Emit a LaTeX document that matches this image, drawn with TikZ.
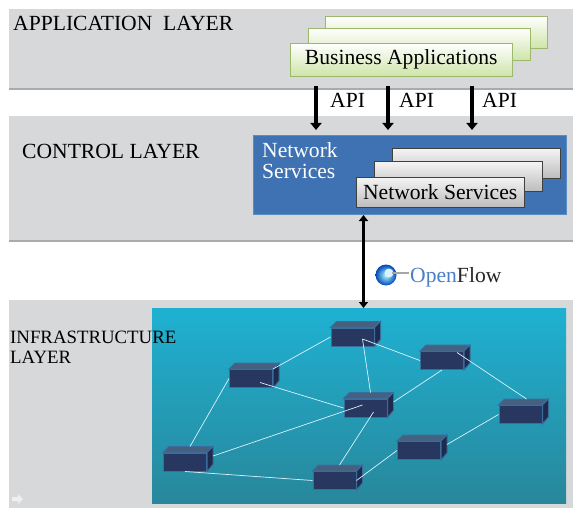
\documentclass[tikz,border=0pt]{standalone}
\usepackage{fontspec}
\setmainfont{Liberation Serif}
\usetikzlibrary{arrows.meta,positioning}

\definecolor{bandgrey}{HTML}{D7D8DA}
\definecolor{bandline}{HTML}{A9ABAD}
\definecolor{ctrlblue}{HTML}{3E72B3}
\definecolor{ctrledge}{HTML}{5C8CC6}
\definecolor{leafgreen}{HTML}{CFE4A8}
\definecolor{leafedge}{HTML}{9CB86C}
\definecolor{seatop}{HTML}{1FB1D2}
\definecolor{seabot}{HTML}{28879B}
\definecolor{boxnavy}{HTML}{27375F}
\definecolor{boxtop}{HTML}{46607F}
\definecolor{boxside}{HTML}{1F2B4C}
\definecolor{boxedge}{HTML}{3A6D9C}
\definecolor{ofblue}{HTML}{4A7FC8}

\tikzset{
  band/.style={fill=bandgrey, anchor=north west, inner sep=0pt, minimum width=564pt},
  layertext/.style={font=\fontsize{21.6}{21}\selectfont, anchor=base west, inner sep=0pt},
  appbox/.style={draw=leafedge, top color=white, bottom color=leafgreen, anchor=north west,
    minimum width=222pt, minimum height=32pt, inner sep=0pt, font=\fontsize{21.6}{21}\selectfont},
  svcbox/.style={draw=black!75, top color=black!4, bottom color=black!26, anchor=north west,
    minimum width=168pt, minimum height=30pt, inner sep=0pt, font=\fontsize{21.6}{21}\selectfont},
  api/.style={line width=4pt, -{Triangle[width=11pt,length=7pt]}},
  dbl/.style={line width=3pt, {Triangle[width=9pt,length=6pt]}-{Triangle[width=9pt,length=6pt]}},
  switch/.style={fill=boxnavy, draw=boxedge, line width=1pt, inner sep=0pt,
    minimum width=43pt, minimum height=18pt},
  link/.style={white!85!cyan, line width=0.7pt}
}

% a switch drawn as a small box seen from above right
\newcommand{\netswitch}[2]{%
  \node[switch] (#1) at (#2) {};
  \filldraw[fill=boxtop, draw=boxedge, line width=1pt] (#1.north west) -- ++(6,-6) -- ++(43,0) -- (#1.north east) -- cycle;
  \filldraw[fill=boxside, draw=boxedge, line width=1pt] (#1.north east) -- ++(6,-6) -- ++(0,18) -- (#1.south east) -- cycle;
}

\begin{document}
\begin{tikzpicture}[x=1pt, y=-1pt]
  \useasboundingbox (0,0) rectangle (573,508);

  % layer bands
  \node[band, minimum height=80pt] (appband) at (9,9) {};
  \node[band, minimum height=125pt] (ctrlband) at (9,116) {};
  \node[band, minimum height=208pt] (infraband) at (9,300) {};
  \draw[bandline, line width=2pt] (appband.south west) -- (appband.south east);
  \draw[bandline, line width=2pt] (ctrlband.south west) -- (ctrlband.south east);

  % application layer
  \node[layertext] (apptext) at (13,31) {APPLICATION\ \ LAYER};
  \node[appbox] (app3) at (325,16) {};
  \node[appbox] (app2) at (308,28) {};
  \node[appbox, minimum height=33pt] (app1) at (290,43) {Business Applications};

  % northbound interfaces
  \coordinate (a1) at (316,86);
  \coordinate (a2) at (388,86);
  \coordinate (a3) at (472,86);
  \node[layertext] (api1) at (330,108) {API};
  \node[layertext] (api2) at (399,108) {API};
  \node[layertext] (api3) at (482,108) {API};

  % control layer
  \node[layertext] (ctrltext) at (22,158) {CONTROL LAYER};
  \node[fill=ctrlblue, draw=ctrledge, line width=1pt, anchor=north west, inner sep=0pt,
    minimum width=313pt, minimum height=79pt] (ctrl) at (253,135) {};
  \node[anchor=north west, inner sep=0pt, align=left, text=white,
    font=\fontsize{21.6}{21}\selectfont] (ctrlname) at (262,142) {Network\\Services};
  \node[svcbox] (svc3) at (392,148) {};
  \node[svcbox] (svc2) at (374,161) {};
  \node[svcbox] (svc1) at (356,177) {Network Services};

  \draw[api, shorten >=5pt] (a1) -- (a1 |- ctrl.north);
  \draw[api, shorten >=5pt] (a2) -- (a2 |- ctrl.north);
  \draw[api, shorten >=5pt] (a3) -- (a3 |- ctrl.north);

  % southbound interface
  \node[anchor=base west, inner sep=0pt, font=\fontsize{21.6}{21}\selectfont] (of) at (410,282)
    {\textcolor{ofblue}{Open}\textcolor{black!85}{Flow}};
  \shade[inner color=white!70!cyan, outer color=blue!45!teal] (386,275) circle (10.5);
  \fill[white!85!cyan] (389,273) circle (4.5);
  \draw[black!35, line width=2pt] (392,273) -- (409,273);

  % infrastructure layer
  \node[anchor=north west, inner sep=0pt, minimum width=414pt, minimum height=195pt,
    top color=seatop, bottom color=seabot] (sea) at (152,308) {};
  \draw[dbl] ([xshift=-46.5pt]ctrl.south) -- ([xshift=-46.5pt]ctrl.south |- sea.north);
  \node[anchor=north west, inner sep=0pt, align=left,
    font=\fontsize{18.8}{20}\selectfont] (infratext) at (10,331) {INFRASTRUCTURE\\LAYER};
  \fill[white!60!bandgrey] (12,497) -- (18,497) -- (18,494) -- (23,499) -- (18,504) -- (18,501) -- (12,501) -- cycle;

  \netswitch{s1}{352.5,337}
  \netswitch{s2}{442,360.5}
  \netswitch{s3}{251,378.5}
  \netswitch{s4}{365.5,408}
  \netswitch{s5}{520.5,414.5}
  \netswitch{s6}{185,462}
  \netswitch{s7}{419,450.5}
  \netswitch{s8}{334.5,480.5}

  \draw[link] (s1.west) -- (s3.north east);
  \draw[link] ([xshift=10pt,yshift=-2pt]s1.center) -- (s2.west);
  \draw[link] ([xshift=10pt,yshift=-2pt]s1.center) -- ([xshift=5pt,yshift=6pt]s4.north);
  \draw[link] (s2.south) -- ([xshift=6pt,yshift=6pt]s4.east);
  \draw[link] ([xshift=15pt,yshift=8pt]s2.center) -- ([xshift=6pt,yshift=6pt]s5.north);
  \draw[link] ([xshift=9pt,yshift=-4pt]s3.center) -- (s4.west);
  \draw[link] (s3.west) -- ([xshift=5pt,yshift=6pt]s6.north);
  \draw[link] ([xshift=6pt,yshift=6pt]s6.east) -- ([xshift=-3pt,yshift=3pt]s4.center);
  \draw[link] (s6.south) -- (s8.west);
  \draw[link] ([xshift=8pt,yshift=-4pt]s4.center) -- ([xshift=5pt,yshift=6pt]s8.north);
  \draw[link] (s8.east) -- (s7.west);
  \draw[link] ([xshift=6pt,yshift=6pt]s7.east) -- (s5.west);
\end{tikzpicture}
\end{document}
